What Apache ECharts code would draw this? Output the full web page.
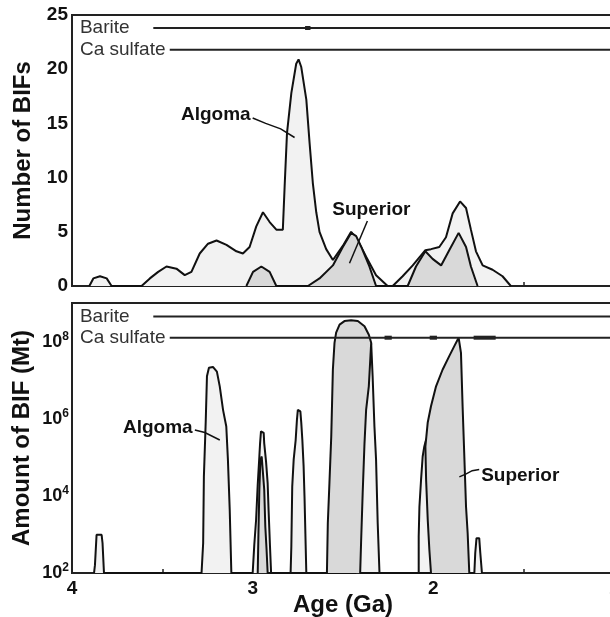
<!DOCTYPE html>
<html><head><meta charset="utf-8">
<script src="https://cdn.jsdelivr.net/npm/echarts@6/dist/echarts.min.js"></script>
<style>html,body{margin:0;padding:0;background:#fff}#c{width:610px;height:617px}</style>
</head><body><div id="c"></div>
<script>
// ---- data (age in Ga, values) ----
const ageTicks = [4, 3, 2, 1];
const countTicks = [0, 5, 10, 15, 20, 25];
const amountTickExponents = [2, 4, 6, 8];

// Number of BIFs, Algoma
const countAlgoma = [
  [3.904,0],[3.882,0.7],[3.845,0.9],[3.808,0.7],[3.781,0],
  [3.615,0],[3.569,0.7],[3.523,1.3],[3.477,1.8],[3.422,1.6],[3.376,1.0],[3.339,1.3],
  [3.293,3.0],[3.247,3.9],[3.2,4.2],[3.145,3.8],[3.09,3.2],[3.054,3.0],[3.017,3.6],
  [2.98,5.5],[2.943,6.8],[2.906,5.9],[2.869,5.2],[2.833,5.2],[2.823,9.2],[2.81,14.1],
  [2.786,17.8],[2.759,20.5],[2.746,20.9],[2.731,20.2],[2.703,17.2],[2.685,13.2],
  [2.667,9.5],[2.648,6.8],[2.63,5.0],[2.593,3.4],[2.556,2.4],[2.501,3.7],[2.455,5.0],
  [2.418,4.2],[2.372,2.7],[2.317,1.0],[2.253,0],
  [2.225,0],[2.17,0.9],[2.114,1.9],[2.044,3.3],[2.013,3.4],[1.967,3.6],[1.93,4.5],
  [1.893,6.7],[1.852,7.8],[1.819,7.2],[1.792,5.2],[1.764,3.2],[1.727,1.9],[1.672,1.5],
  [1.617,0.9],[1.571,0]
];
// Number of BIFs, Superior
const countSuperior = [
  [3.035,0],[2.998,1.3],[2.952,1.8],[2.906,1.3],[2.869,0],
  [2.694,0],[2.63,0.7],[2.556,1.9],[2.501,3.6],[2.455,4.9],[2.427,4.6],[2.399,3.6],
  [2.354,1.8],[2.317,0],
  [2.142,0],[2.096,1.8],[2.044,3.2],[2.004,2.5],[1.957,1.9],[1.912,3.3],[1.86,4.9],
  [1.819,3.6],[1.792,1.8],[1.755,0]
];
// Amount of BIF (Mt), Algoma
const amountAlgoma = [
  [3.878,100],[3.873,160],[3.864,980],[3.836,980],[3.831,600],[3.823,100],
  [3.283,100],[3.274,600],[3.27,3.2e4],[3.265,1.6e5],[3.26,8e5],[3.253,1.26e7],[3.242,2.1e7],
  [3.22,2.2e7],[3.198,1.66e7],[3.182,6.8e6],[3.164,1.7e6],[3.146,6.3e5],[3.137,8.7e4],
  [3.127,4.4e3],[3.118,100],
  [3.0,100],[2.991,540],[2.981,2400],[2.972,1.95e4],[2.963,1.05e5],[2.959,2.3e5],[2.954,4.7e5],
  [2.945,5.1e5],[2.939,4.3e5],[2.936,2.3e5],[2.926,7.8e4],[2.917,2.1e4],[2.912,4.4e3],
  [2.904,480],[2.898,100],
  [2.79,100],[2.786,480],[2.781,1.74e4],[2.773,8.7e4],[2.762,2.8e5],[2.755,9.3e5],[2.75,1.7e6],
  [2.736,1.55e6],[2.731,7.9e5],[2.725,2.8e5],[2.718,5.8e4],[2.713,9.5e3],[2.703,100],
  [2.43,100],[2.42,1e3],[2.41,2e4],[2.40,3e5],[2.385,2e6],[2.37,1e7],[2.355,5e7],[2.344,9e7],
  [2.336,1.26e7],[2.326,6.3e5],[2.317,8.7e4],[2.308,2e3],[2.298,100],
  [2.081,100],[2.081,870],[2.077,5.2e3],[2.068,2.6e4],[2.059,1.05e5],[2.05,1.9e5],[2.039,3e5],
  [2.02,2e5],[2.004,100],
  [1.773,100],[1.768,330],[1.761,800],[1.746,800],[1.74,330],[1.731,100]
];
// Amount of BIF (Mt), Superior
const amountSuperior = [
  [2.972,100],[2.968,1.1e3],[2.963,1.45e4],[2.957,8.7e4],[2.95,1.05e5],[2.941,9.8e4],
  [2.936,1.45e4],[2.93,1.6e3],[2.923,400],[2.917,100],
  [2.589,100],[2.584,2e3],[2.575,2.2e4],[2.565,3.5e5],[2.556,1.9e7],[2.547,9.3e7],[2.538,1.7e8],
  [2.519,2.75e8],[2.492,3.4e8],[2.455,3.55e8],[2.418,3.4e8],[2.381,2.5e8],[2.357,1.5e8],
  [2.344,9.3e7],[2.357,7e6],[2.372,1.7e6],[2.381,2.3e5],[2.391,1.2e4],[2.4,600],[2.405,100],
  [2.013,100],[2.022,400],[2.031,2.4e3],[2.04,2.6e4],[2.044,1.9e5],[2.031,8e5],[2.013,2.1e6],
  [1.985,6.9e6],[1.949,1.86e7],[1.912,4.2e7],[1.884,7.6e7],[1.86,1.26e8],[1.847,5.1e7],
  [1.838,2.1e6],[1.829,1.26e5],[1.819,5.2e3],[1.81,1.07e3],[1.801,100]
];
// sulfate occurrence ranges (age from, age to)
const bariteRange = [3.55, 1.0];
const caSulfateRange = [3.459, 1.0];
const bariteMarksTop = [[2.71, 2.68]];
const caSulfateMarksBottom = [[2.27, 2.23], [2.02, 1.98], [1.777, 1.655]];
const sulfateLevelsTop = {barite: 23.8, ca: 21.8};
const sulfateLevelsBottom = {barite: 4.5e8, ca: 1.26e8};

// ---- chart ----
const FONT = '"Liberation Sans", Arial, sans-serif';
const chart = echarts.init(document.getElementById('c'), null, {renderer: 'canvas'});
const LIGHT = '#f2f2f2', DARK = '#d9d9d9', INK = '#111';

function rangeLine(range, level, xi, yi, width) {
  return {type: 'line', xAxisIndex: xi, yAxisIndex: yi, symbol: 'none', silent: true,
    data: [[range[0], level], [range[1], level]],
    lineStyle: {color: '#222', width: width}, z: 5};
}
function areaSeries(data, xi, yi, fill, z) {
  return {type: 'line', xAxisIndex: xi, yAxisIndex: yi, data: data, symbol: 'none', silent: true,
    lineStyle: {color: INK, width: 2}, areaStyle: {color: fill, opacity: 1, origin: 'start'}, z: z};
}

const series = [
  areaSeries(countAlgoma, 0, 0, LIGHT, 2),
  areaSeries(countSuperior, 0, 0, DARK, 3),
  areaSeries(amountAlgoma, 1, 1, LIGHT, 2),
  areaSeries(amountSuperior, 1, 1, DARK, 3),
  rangeLine(bariteRange, sulfateLevelsTop.barite, 0, 0, 2),
  rangeLine(caSulfateRange, sulfateLevelsTop.ca, 0, 0, 2),
  rangeLine(bariteRange, sulfateLevelsBottom.barite, 1, 1, 2),
  rangeLine(caSulfateRange, sulfateLevelsBottom.ca, 1, 1, 2)
];
bariteMarksTop.forEach(r => series.push(rangeLine(r, sulfateLevelsTop.barite, 0, 0, 4)));
caSulfateMarksBottom.forEach(r => series.push(rangeLine(r, sulfateLevelsBottom.ca, 1, 1, 4)));

const xBase = {
  type: 'value', min: 1, max: 4, interval: 0.5, inverse: true,
  axisLine: {show: true, lineStyle: {color: '#222', width: 2}},
  axisTick: {show: true, inside: true, length: 4, lineStyle: {color: '#222', width: 1.5}},
  splitLine: {show: false}
};
const nameStyle = {color: INK, fontFamily: FONT, fontWeight: 'bold', fontSize: 24};

chart.setOption({
  animation: false,
  backgroundColor: '#fff',
  grid: [
    {left: 72, top: 15, width: 542, height: 271, show: true, borderColor: '#222', borderWidth: 2,
      backgroundColor: '#fff', containLabel: false, outerBoundsMode: 'none'},
    {left: 72, top: 303, width: 542, height: 270, show: true, borderColor: '#222', borderWidth: 2,
      backgroundColor: '#fff', containLabel: false, outerBoundsMode: 'none'}
  ],
  xAxis: [
    Object.assign({}, xBase, {gridIndex: 0, axisLabel: {show: false}}),
    Object.assign({}, xBase, {gridIndex: 1,
      axisLabel: {show: true, margin: 6, color: INK, fontFamily: FONT, fontWeight: 'bold', fontSize: 19,
        showMaxLabel: true, showMinLabel: true, hideOverlap: false,
        formatter: v => ageTicks.indexOf(v) >= 0 ? String(v) : ''},
      name: 'Age (Ga)', nameLocation: 'middle', nameGap: 20, nameMoveOverlap: false,
      nameTextStyle: nameStyle})
  ],
  yAxis: [
    {type: 'value', gridIndex: 0, min: 0, max: 25, interval: 5,
      axisLine: {show: true, lineStyle: {color: '#222', width: 2}},
      axisTick: {show: false}, splitLine: {show: false},
      axisLabel: {margin: 4, color: INK, fontFamily: FONT, fontWeight: 'bold', fontSize: 19,
        formatter: v => countTicks.indexOf(v) >= 0 ? String(v) : ''},
      name: 'Number of BIFs', nameLocation: 'middle', nameGap: 37, nameMoveOverlap: false,
      nameTextStyle: nameStyle},
    {type: 'log', logBase: 10, gridIndex: 1, min: 100, max: 1e9,
      axisLine: {show: true, lineStyle: {color: '#222', width: 2}},
      axisTick: {show: false}, splitLine: {show: false}, minorTick: {show: false},
      axisLabel: {margin: 3, color: INK,
        formatter: v => { const e = Math.round(Math.log10(v)); return amountTickExponents.indexOf(e) >= 0 ? '{b|10}{s|' + e + '}' : ''; },
        rich: {
          b: {fontFamily: FONT, fontWeight: 'bold', fontSize: 18, color: INK, lineHeight: 22},
          s: {fontFamily: FONT, fontWeight: 'bold', fontSize: 12, color: INK, verticalAlign: 'top'}
        }},
      name: 'Amount of BIF (Mt)', nameLocation: 'middle', nameGap: 38, nameMoveOverlap: false,
      nameTextStyle: nameStyle}
  ],
  series: series
});

// ---- annotations, placed in data coordinates ----
const labelsTop = [
  {text: 'Barite', at: [3.956, sulfateLevelsTop.barite], bold: false, align: 'left'},
  {text: 'Ca sulfate', at: [3.956, sulfateLevelsTop.ca], bold: false, align: 'left'},
  {text: 'Algoma', at: [3.204, 15.8], bold: true, align: 'center'},
  {text: 'Superior', at: [2.343, 7.0], bold: true, align: 'center'}
];
const labelsBottom = [
  {text: 'Barite', at: [3.956, sulfateLevelsBottom.barite], bold: false, align: 'left'},
  {text: 'Ca sulfate', at: [3.956, sulfateLevelsBottom.ca], bold: false, align: 'left'},
  {text: 'Algoma', at: [3.525, 5.9e5], bold: true, align: 'center'},
  {text: 'Superior', at: [1.519, 3.3e4], bold: true, align: 'center'}
];
const leadersTop = [
  [[3.0, 15.5], [2.928, 15.0], [2.845, 14.5], [2.768, 13.7]],
  [[2.365, 6.0], [2.464, 2.1]]
];
const leadersBottom = [
  [[3.32, 5.1e5], [3.265, 4.4e5], [3.182, 2.8e5]],
  [[1.856, 3.1e4], [1.818, 3.7e4], [1.785, 4.5e4], [1.746, 4.8e4]]
];

const graphics = [];
function addLabels(list, gi) {
  list.forEach(l => {
    const p = chart.convertToPixel({gridIndex: gi}, l.at);
    const bg = l.bold ? null : '#fff';
    graphics.push({type: 'text', x: p[0], y: p[1], z: 50, silent: true,
      style: {text: l.text, fill: l.bold ? INK : '#333', font: (l.bold ? 'bold ' : '') + '19px ' + FONT,
        align: l.align, verticalAlign: 'middle', backgroundColor: bg, padding: l.bold ? 0 : [0, 2, 0, 0]}});
  });
}
function addLeaders(list, gi) {
  list.forEach(pts => {
    graphics.push({type: 'polyline', z: 50, silent: true,
      shape: {points: pts.map(pt => chart.convertToPixel({gridIndex: gi}, pt))},
      style: {stroke: INK, lineWidth: 1.5, fill: null}});
  });
}
addLabels(labelsTop, 0); addLabels(labelsBottom, 1);
addLeaders(leadersTop, 0); addLeaders(leadersBottom, 1);
chart.setOption({graphic: graphics});
</script>
</body></html>
